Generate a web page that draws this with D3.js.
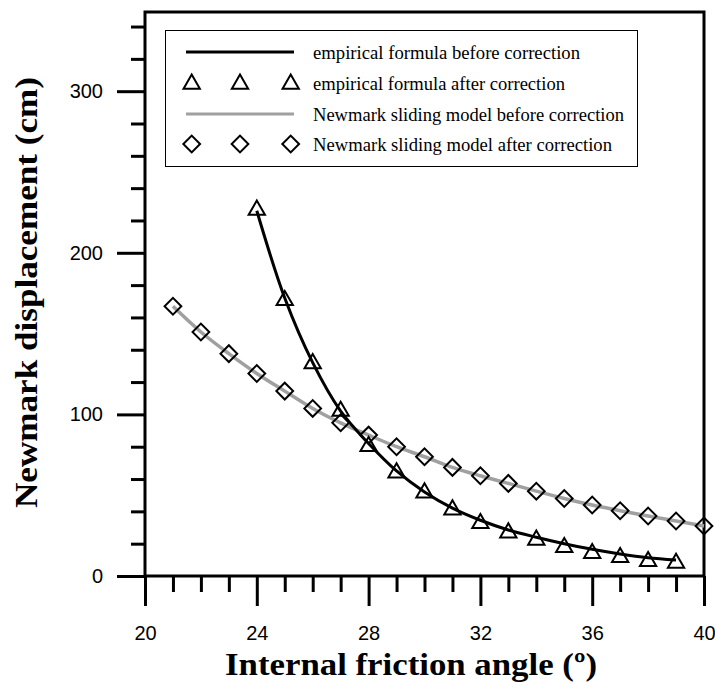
<!DOCTYPE html>
<html>
<head>
<meta charset="utf-8">
<script src="https://cdn.jsdelivr.net/npm/d3@7"></script>
<style>
  html, body { margin: 0; padding: 0; background: #fff; }
  svg { display: block; }
</style>
</head>
<body>
<svg id="chart" width="715" height="682"></svg>
<script>
// ---- data ----
const angleEmp = [24, 25, 26, 27, 28, 29, 30, 31, 32, 33, 34, 35, 36, 37, 38, 39];
const empBefore = [226, 172, 132, 102, 82, 65, 52, 42, 34.5, 28.5, 24, 20, 16.5, 13.6, 11.3, 9.9];
const empAfter = [226.5, 170.6, 131.5, 102, 80.2, 63.9, 51.5, 41, 32.6, 26.8, 22.3, 17.7, 14, 11.5, 9.1, 8];
const angleNew = [21, 22, 23, 24, 25, 26, 27, 28, 29, 30, 31, 32, 33, 34, 35, 36, 37, 38, 39, 40];
const newBefore = [166.9, 151, 137.6, 125.3, 114.4, 103.7, 94.8, 87.2, 80, 73.8, 67.2, 62, 57.3, 52.5, 48, 43.9, 40.4, 37.1, 34, 30.9];
const newAfter = [166.9, 151, 137.6, 125.3, 114.4, 103.7, 94.8, 87.2, 80, 73.8, 67.2, 62, 57.3, 52.5, 48, 43.9, 40.4, 37.1, 34, 30.9];
const xMajorTicks = [20, 24, 28, 32, 36, 40];
const yMajorTicks = [0, 100, 200, 300];
const legendLabels = [
  "empirical formula before correction",
  "empirical formula after correction",
  "Newmark sliding model before correction",
  "Newmark sliding model after correction"
];
const xTitle = "Internal friction angle (\u00BA)";
const yTitle = "Newmark displacement (cm)";
const xDomain = [20, 40];
const yDomain = [0, 349];

// ---- layout ----
const L = 145, R = 704, T = 12, B = 576;
const svg = d3.select("#chart");
const x = d3.scaleLinear().domain(xDomain).range([L, R]);
const y = d3.scaleLinear().domain(yDomain).range([B, T]);

const tickFont = "'Liberation Sans', Arial, sans-serif";
const serif = "'Liberation Serif', 'Times New Roman', serif";

// minor ticks
const xMinor = d3.range(xDomain[0], xDomain[1] + 0.001, 1).filter(v => !xMajorTicks.includes(v));
const yMinor = d3.range(0, 341, 20).filter(v => !yMajorTicks.includes(v));

const gx = svg.append("g").attr("transform", `translate(0,${B})`);
gx.call(d3.axisBottom(x).tickValues(xMinor).tickSize(16).tickFormat(""));
const gx2 = svg.append("g").attr("transform", `translate(0,${B})`);
gx2.call(d3.axisBottom(x).tickValues(xMajorTicks).tickSize(30).tickPadding(20).tickFormat(d3.format("d")));

const gy = svg.append("g").attr("transform", `translate(${L},0)`);
gy.call(d3.axisLeft(y).tickValues(yMinor).tickSize(14).tickFormat(""));
const gy2 = svg.append("g").attr("transform", `translate(${L},0)`);
gy2.call(d3.axisLeft(y).tickValues(yMajorTicks).tickSize(28).tickPadding(14).tickFormat(d3.format("d")));

svg.selectAll(".domain").remove();
svg.selectAll(".tick line").attr("stroke", "#000").attr("stroke-width", 3);
svg.selectAll(".tick text").attr("fill", "#000").style("font-family", tickFont).style("font-size", "20px");

// frame
svg.append("rect")
  .attr("x", L).attr("y", T).attr("width", R - L).attr("height", B - T)
  .attr("fill", "none").attr("stroke", "#000").attr("stroke-width", 3);

// lines
const lineEmp = d3.line().x((d, i) => x(angleEmp[i])).y(d => y(d)).curve(d3.curveCatmullRom.alpha(0.5));
const lineNew = d3.line().x((d, i) => x(angleNew[i])).y(d => y(d)).curve(d3.curveCatmullRom.alpha(0.5));

svg.append("path").datum(newBefore).attr("d", lineNew)
  .attr("fill", "none").attr("stroke", "#a0a0a0").attr("stroke-width", 3.5);
svg.append("path").datum(empBefore).attr("d", lineEmp)
  .attr("fill", "none").attr("stroke", "#000").attr("stroke-width", 3);

const tri = d3.symbol().type(d3.symbolTriangle).size(115);
const dia = d3.symbol().type(d3.symbolSquare).size(140);

svg.append("g").selectAll("path").data(empAfter).join("path")
  .attr("d", tri)
  .attr("transform", (d, i) => `translate(${x(angleEmp[i])},${y(d)})`)
  .attr("fill", "none").attr("stroke", "#000").attr("stroke-width", 2);

svg.append("g").selectAll("path").data(newAfter).join("path")
  .attr("d", dia)
  .attr("transform", (d, i) => `translate(${x(angleNew[i])},${y(d)}) rotate(45)`)
  .attr("fill", "none").attr("stroke", "#000").attr("stroke-width", 2);

// legend
const lg = svg.append("g");
lg.append("rect").attr("x", 165.5).attr("y", 30.5).attr("width", 472).attr("height", 136)
  .attr("fill", "#fff").attr("stroke", "#000").attr("stroke-width", 1);
const rowY = [52, 83, 114, 144];
const mkX = [191.7, 240, 290.7];
lg.append("line").attr("x1", 186).attr("x2", 294).attr("y1", rowY[0]).attr("y2", rowY[0])
  .attr("stroke", "#000").attr("stroke-width", 3);
lg.append("line").attr("x1", 186).attr("x2", 294).attr("y1", rowY[2]).attr("y2", rowY[2])
  .attr("stroke", "#a0a0a0").attr("stroke-width", 3);
mkX.forEach(mx => {
  lg.append("path").attr("d", tri).attr("transform", `translate(${mx},${rowY[1] + 1})`)
    .attr("fill", "none").attr("stroke", "#000").attr("stroke-width", 2);
  lg.append("path").attr("d", dia).attr("transform", `translate(${mx},${rowY[3]}) rotate(45)`)
    .attr("fill", "none").attr("stroke", "#000").attr("stroke-width", 2);
});
const legW = [267, 252, 311, 299];
legendLabels.forEach((t, i) => {
  lg.append("text").attr("x", 313).attr("y", rowY[i]).attr("dy", "0.35em")
    .attr("textLength", legW[i]).attr("lengthAdjust", "spacingAndGlyphs")
    .style("font-family", serif).style("font-size", "19.5px").attr("fill", "#000")
    .text(t);
});

// titles
svg.append("text").attr("x", (225 + 597) / 2).attr("y", 675).attr("text-anchor", "middle")
  .attr("textLength", 372).attr("lengthAdjust", "spacingAndGlyphs")
  .style("font-family", serif).style("font-size", "32px").style("font-weight", "bold").attr("fill", "#000")
  .text(xTitle);
svg.append("text").attr("transform", `translate(37,${(77 + 508) / 2}) rotate(-90)`).attr("text-anchor", "middle")
  .attr("textLength", 431).attr("lengthAdjust", "spacingAndGlyphs")
  .style("font-family", serif).style("font-size", "32px").style("font-weight", "bold").attr("fill", "#000")
  .text(yTitle);
</script>
</body>
</html>
